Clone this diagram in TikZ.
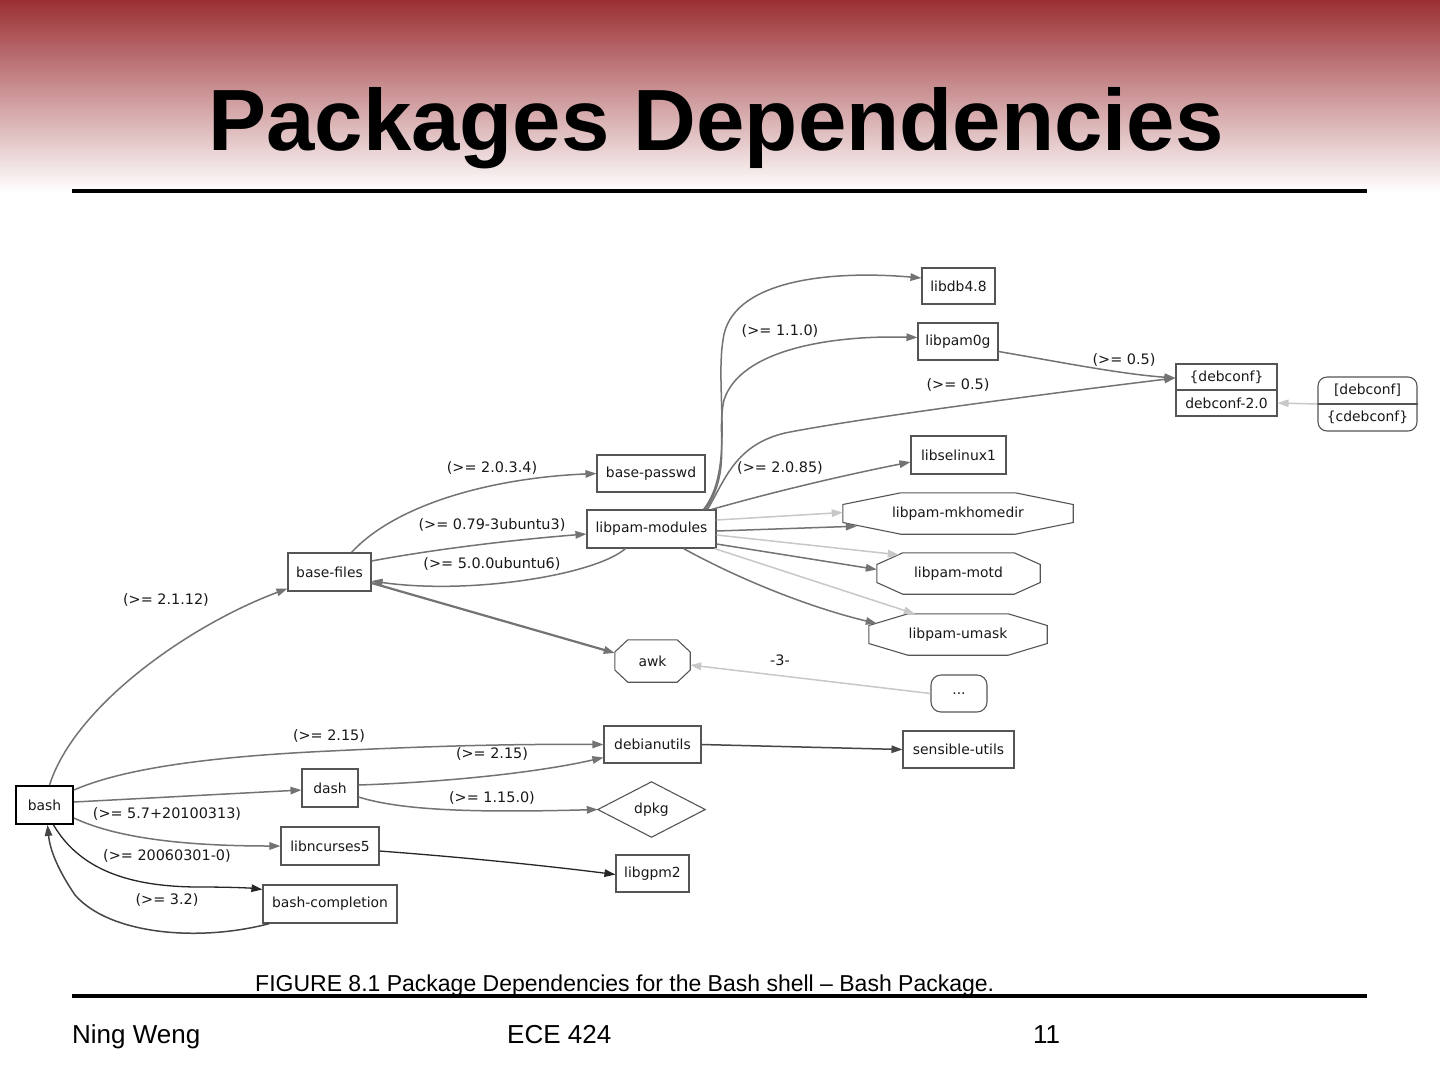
\documentclass[tikz,border=0pt]{standalone}
\usepackage{fontspec}
\setmainfont{Liberation Sans}
\newfontfamily\dvs{DejaVu Sans}
\usetikzlibrary{arrows.meta,calc}
\definecolor{edgegray}{RGB}{115,115,115}
\definecolor{darkedge}{RGB}{70,70,70}
\definecolor{lightedge}{RGB}{200,200,200}
\definecolor{nodegray}{RGB}{85,85,85}
\definecolor{titlered}{RGB}{155,48,52}
\newcommand\pkgfont{\fontsize{13.9}{16}\dvs}
\newcommand\lblfont{\fontsize{14.4}{16}\dvs}
\newcommand\octdraw[2]{\draw[nodeline] ([xshift=#2]#1.north west) -- ([xshift=-#2]#1.north east) -- ([yshift=9pt]#1.east) -- ([yshift=-9pt]#1.east) -- ([xshift=-#2]#1.south east) -- ([xshift=#2]#1.south west) -- ([yshift=-9pt]#1.west) -- ([yshift=9pt]#1.west) -- cycle;}
\tikzset{
  pkg/.style={draw=nodegray, line width=1.1pt, inner sep=0pt, minimum height=37pt, font=\pkgfont, text=black!90},
  octo/.style={inner sep=0pt, minimum height=41pt, font=\pkgfont, text=black!90},
  txt/.style={inner sep=0pt, font=\pkgfont, text=black!90},
  nodeline/.style={draw=nodegray, line width=1.1pt},
  lbl/.style={inner sep=0pt, font=\lblfont, text=black!90},
  dep/.style={draw=edgegray, line width=1.5pt, -{Triangle[length=11pt,width=7.5pt]}},
  lightdep/.style={draw=lightedge, line width=1.5pt, -{Triangle[length=11pt,width=7.5pt]}},
  darkdep/.style={draw=darkedge, line width=1.5pt, -{Triangle[length=11pt,width=7.5pt]}},
  blackdep/.style={draw=black!85, line width=1.3pt, -{Triangle[length=11pt,width=7.5pt]}},
}
\begin{document}
\begin{tikzpicture}[x=1pt,y=-1pt]
\useasboundingbox (0,0) rectangle (1440,1080);
\fill[white] (0,0) rectangle (1440,1080);
\shade[top color=titlered, bottom color=white] (0,0) rectangle (1440,192);
\draw[line width=4pt] (72,191) -- (1367,191);
\draw[line width=4pt] (72,996) -- (1367,996);
\node[anchor=base, inner sep=0pt, font=\fontsize{87}{90}\selectfont\bfseries] (title) at (716,150) {Packages Dependencies};
\node[anchor=base west, inner sep=0pt, font=\fontsize{23}{26}\selectfont] (caption) at (255,991) {FIGURE 8.1 Package Dependencies for the Bash shell \textendash{} Bash Package.};
\node[anchor=base west, inner sep=0pt, font=\fontsize{26}{30}\selectfont] (author) at (72,1043) {Ning Weng};
\node[anchor=base west, inner sep=0pt, font=\fontsize{26}{30}\selectfont] (course) at (507,1043) {ECE 424};
\node[anchor=base west, inner sep=0pt, font=\fontsize{26}{30}\selectfont] (pagenum) at (1033,1043) {11};

% nodes
\node[pkg, minimum width=57pt, minimum height=38pt, draw=black, line width=1.8pt] (bash) at (44.5,805) {bash};
\node[pkg, minimum width=83pt, minimum height=38pt] (basefiles) at (329.5,572) {base-files};
\node[pkg, minimum width=108pt] (basepasswd) at (651,473.5) {base-passwd};
\node[pkg, minimum width=129pt, minimum height=38pt] (pammod) at (651.5,529) {libpam-modules};
\node[pkg, minimum width=73pt, minimum height=36pt] (libdb) at (958.5,286) {libdb4.8};
\node[pkg, minimum width=80pt] (pamzg) at (958,341.5) {libpam0g};
\node[pkg, minimum width=101pt, minimum height=52pt] (debconf) at (1226.5,390) {};
\draw[nodeline] (debconf.west) -- (debconf.east);
\node[txt] (debconfa) at (1226.5,377) {\{debconf\}};
\node[txt] (debconfb) at (1226.5,403) {debconf-2.0};
\node[pkg, rounded corners=9pt, minimum width=99pt, minimum height=54pt] (cdeb) at (1367.5,404) {};
\draw[nodeline] (cdeb.west) -- (cdeb.east);
\node[txt] (cdeba) at (1367.5,390.5) {[debconf]};
\node[txt] (cdebb) at (1367.5,417.5) {\{cdebconf\}};
\node[pkg, minimum width=95pt, minimum height=38pt] (selinux) at (958.5,455) {libselinux1};
\node[octo, minimum width=230pt] (mkhome) at (958,513.5) {libpam-mkhomedir};
\octdraw{mkhome}{58pt}
\node[octo, minimum width=163pt] (motd) at (958.5,573.5) {libpam-motd};
\octdraw{motd}{26pt}
\node[octo, minimum width=178pt] (umask) at (958,634.5) {libpam-umask};
\octdraw{umask}{39pt}
\node[octo, minimum width=75pt, minimum height=42pt] (awk) at (652.5,661) {awk};
\octdraw{awk}{13pt}
\node[pkg, rounded corners=10pt, minimum width=56pt] (dots) at (959,693.5) {...};
\node[pkg, minimum width=97pt] (debutils) at (652.5,744.5) {debianutils};
\node[pkg, minimum width=111pt] (sensible) at (958.5,749.5) {sensible-utils};
\node[pkg, minimum width=56pt, minimum height=38pt] (dash) at (330,788) {dash};
\node[octo, minimum width=107pt, minimum height=55pt] (dpkg) at (651.5,809.5) {dpkg};
\draw[nodeline] (dpkg.north) -- (dpkg.east) -- (dpkg.south) -- (dpkg.west) -- cycle;
\node[pkg, minimum width=98pt, minimum height=38pt] (ncurses) at (330,846) {libncurses5};
\node[pkg, minimum width=73pt] (gpm) at (652.5,873.5) {libgpm2};
\node[pkg, minimum width=134pt, minimum height=38pt] (bashcomp) at (330,904) {bash-completion};

% edges
\draw[dep] ([xshift=5pt]bash.north) .. controls (75,705) and (190,625) .. ([yshift=3pt]basefiles.south west);
\draw[dep] ([xshift=22pt]basefiles.north) .. controls (395,505) and (490,478) .. (basepasswd.west);
\draw[dep] ([yshift=11pt]basefiles.east) .. controls (430,550) and (510,540) .. ([yshift=-5pt]pammod.west);
\draw[dep] ([xshift=-26pt]pammod.south) .. controls (595,575) and (470,595) .. ([yshift=-9pt]basefiles.east);
\draw[dep, line width=2.2pt] ([yshift=-11pt]basefiles.east) -- ([yshift=8pt]awk.west);
\draw[dep] ([xshift=52pt]pammod.north) .. controls (735,470) and (715,390) .. (723,340) .. controls (730,280) and (830,270) .. ([yshift=8pt]libdb.west);
\draw[dep] ([xshift=54pt]pammod.north) .. controls (732,470) and (716,435) .. (724,400) .. controls (740,350) and (830,335) .. ([yshift=4pt]pamzg.west);
\draw[dep] ([xshift=56pt]pammod.north) .. controls (725,480) and (735,445) .. (785,433) .. controls (860,418) and (1060,392) .. ([yshift=12pt]debconf.west);
\draw[dep] ([yshift=-10pt]pamzg.east) .. controls (1060,362) and (1120,374) .. ([yshift=12pt]debconf.west);
\draw[lightdep] (cdeb.west) -- ([yshift=-13pt]debconf.east);
\draw[dep] ([xshift=60pt]pammod.north) .. controls (780,490) and (850,474) .. ([yshift=-7pt]selinux.west);
\draw[lightdep] ([yshift=9pt]pammod.east) -- ([yshift=1pt]mkhome.west);
\draw[dep] ([yshift=-2pt]pammod.east) -- ([xshift=14pt,yshift=8pt]mkhome.south west);
\draw[lightdep] ([yshift=-6pt]pammod.east) -- ([xshift=22pt,yshift=-2pt]motd.north west);
\draw[dep] ([yshift=-15pt]pammod.east) -- ([yshift=4pt]motd.west);
\draw[lightdep] ([xshift=-2pt]pammod.south east) -- ([xshift=46pt]umask.north west);
\draw[dep] ([xshift=32pt]pammod.south) .. controls (750,585) and (820,610) .. ([xshift=8pt,yshift=11pt]umask.west);
\draw[lightdep] (dots.west) -- ([yshift=-4pt]awk.east);
\draw[dep] ([yshift=15pt]bash.east) .. controls (120,770) and (200,757) .. (330,751) .. controls (450,745) and (530,744) .. (debutils.west);
\draw[dep] ([yshift=3pt]bash.east) -- ([yshift=-2pt]dash.west);
\draw[dep] ([yshift=3pt]dash.east) .. controls (450,782) and (540,772) .. ([yshift=-13pt]debutils.west);
\draw[dep] ([yshift=-9pt]dash.east) .. controls (400,810) and (470,813) .. (dpkg.west);
\draw[dep] ([yshift=-13pt]bash.east) .. controls (110,835) and (170,846) .. (ncurses.west);
\draw[blackdep] ([yshift=-5pt]ncurses.east) .. controls (460,857) and (540,865) .. ([yshift=-1pt]gpm.west);
\draw[blackdep] ([xshift=9pt]bash.south) .. controls (80,870) and (130,887) .. (200,887) .. controls (230,887) and (250,888) .. ([yshift=-5pt]bashcomp.north west);
\draw[darkdep] ([xshift=7pt]bashcomp.south west) .. controls (200,942) and (110,935) .. (75,895) .. controls (58,870) and (50,850) .. ([xshift=3pt]bash.south);
\draw[darkdep] (debutils.east) -- (sensible.west);

% labels
\node[lbl] (l1) at (166,600) {(>= 2.1.12)};
\node[lbl] (l2) at (492,468) {(>= 2.0.3.4)};
\node[lbl] (l3) at (492,525) {(>= 0.79-3ubuntu3)};
\node[lbl] (l4) at (492,564) {(>= 5.0.0ubuntu6)};
\node[lbl] (l5) at (780,331) {(>= 1.1.0)};
\node[lbl] (l6) at (958,385) {(>= 0.5)};
\node[lbl] (l7) at (1124,360) {(>= 0.5)};
\node[lbl] (l8) at (780,468) {(>= 2.0.85)};
\node[lbl] (l9) at (780,660) {-3-};
\node[lbl] (l10) at (329,736) {(>= 2.15)};
\node[lbl] (l11) at (492,754) {(>= 2.15)};
\node[lbl] (l12) at (492,798) {(>= 1.15.0)};
\node[lbl] (l13) at (167,814) {(>= 5.7+20100313)};
\node[lbl] (l14) at (167,856) {(>= 20060301-0)};
\node[lbl] (l15) at (167,900) {(>= 3.2)};
\end{tikzpicture}
\end{document}
